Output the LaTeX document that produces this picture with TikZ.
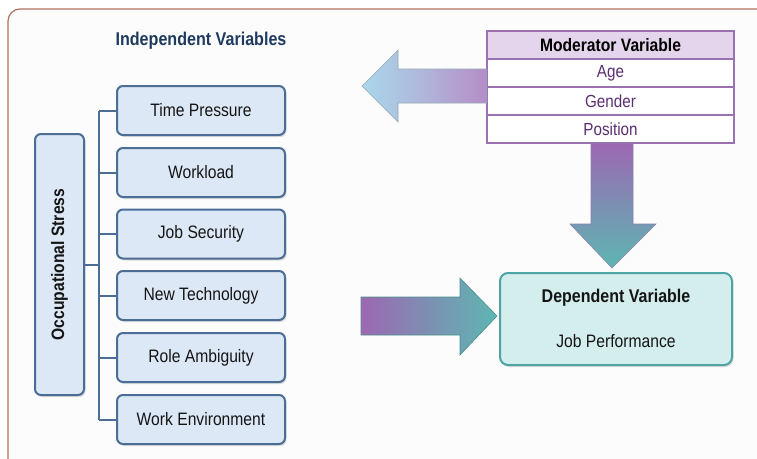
\documentclass[tikz,border=0pt]{standalone}
\usepackage{fontspec}
\setmainfont{Liberation Sans}[FakeStretch=0.87]
\usetikzlibrary{shadows,calc}
\definecolor{framec}{HTML}{B3705C}
\definecolor{bgc}{HTML}{FCFCFC}
\definecolor{ivfill}{HTML}{DCE8F5}
\definecolor{ivdraw}{HTML}{4C6E96}
\definecolor{titlec}{HTML}{1F3A5F}
\definecolor{txt}{HTML}{151515}
\definecolor{modfill}{HTML}{E5D5EC}
\definecolor{moddraw}{HTML}{9A72B2}
\definecolor{modtxt}{HTML}{5C2F72}
\definecolor{dvfill}{HTML}{D4EEEE}
\definecolor{dvdraw}{HTML}{4FA3A3}
\definecolor{lblue}{HTML}{AAD7EA}
\definecolor{lpurp}{HTML}{B68CC7}
\definecolor{dpurp}{HTML}{9C68B2}
\definecolor{teal}{HTML}{5DB7B2}
\begin{document}
\begin{tikzpicture}[x=1pt,y=-1pt,
  shad/.style={drop shadow={shadow xshift=1.5pt,shadow yshift=-2pt,opacity=0.18,fill=black!70}},
  ivbox/.style={draw=ivdraw,fill=ivfill,line width=2pt,rounded corners=6pt,minimum width=168pt,minimum height=49pt,
    text=txt,font=\fontsize{18}{21}\selectfont,shad,inner sep=0pt},
  osbox/.style={draw=ivdraw,fill=ivfill,line width=2pt,rounded corners=6pt,minimum width=261pt,minimum height=49pt,
    text=txt,font=\fontsize{18}{21}\selectfont\bfseries,shad,inner sep=0pt,rotate=90},
  conn/.style={draw=ivdraw,line width=2pt},
  modrow/.style={draw=moddraw,fill=white,line width=1.5pt,minimum width=247pt,minimum height=28pt,inner sep=0pt,
    text=modtxt,font=\fontsize{17.5}{20}\selectfont},
  modhead/.style={modrow,fill=modfill,text=black,font=\fontsize{18}{21}\selectfont\bfseries},
  dvbox/.style={draw=dvdraw,fill=dvfill,line width=2pt,rounded corners=8pt,minimum width=232pt,minimum height=92pt,shad},
  plain/.style={inner sep=0pt,text=txt}
]
\useasboundingbox (0,0) rectangle (757,458);
\fill[white] (0,0) rectangle (757,458);
\draw[framec,line width=1.2pt,rounded corners=12pt,fill=bgc] (8,9) rectangle (780,480);

\node[plain,text=titlec,font=\fontsize{18.5}{22}\selectfont\bfseries] (title) at (201,41) {Independent Variables};

\node[osbox] (os) at (59.5,264.5) {Occupational Stress};

\node[ivbox] (tp) at (201,110.5) {Time Pressure};
\node[ivbox] (wl) at (201,172.5) {Workload};
\node[ivbox] (js) at (201,234) {Job Security};
\node[ivbox] (nt) at (201,295.5) {New Technology};
\node[ivbox] (ra) at (201,357.5) {Role Ambiguity};
\node[ivbox] (we) at (201,419.5) {Work Environment};

\coordinate (ttop) at ($(tp.west)+(-17,0)$);
\coordinate (tbot) at ($(we.west)+(-17,0)$);
\draw[conn] (ttop) -- (tbot);
\draw[conn] (os.south) -- (os.south -| ttop);
\foreach \n in {tp,wl,js,nt,ra,we} { \draw[conn] (\n.west) -- (\n.west -| ttop); }

\node[modhead] (mh) at (610.5,45) {Moderator Variable};
\node[modrow] (age) at (610.5,73) {Age};
\node[modrow] (gen) at (610.5,101) {Gender};
\node[modrow] (pos) at (610.5,129) {Position};

% left arrow
\shade[left color=lblue,right color=lpurp,middle color=lblue!55!lpurp]
  (362,86) -- (398,50) -- (398,69) -- (487,69) -- (487,103) -- (398,103) -- (398,122) -- cycle;
\draw[draw=lblue!70!black!80,line width=0.6pt]
  (362,86) -- (398,50) -- (398,69) -- (486,69) -- (486,103) -- (398,103) -- (398,122) -- cycle;

% down arrow
\shade[top color=dpurp,bottom color=teal]
  (591,143) -- (633,143) -- (633,224) -- (656,224) -- (612,268) -- (570,224) -- (591,224) -- cycle;
\draw[draw=moddraw!80!teal,line width=0.6pt]
  (591,143) -- (633,143) -- (633,224) -- (656,224) -- (612,268) -- (570,224) -- (591,224) -- cycle;

% right arrow
\shade[left color=dpurp,right color=teal]
  (361,297) -- (460,297) -- (460,278) -- (497,316) -- (460,355) -- (460,335) -- (361,335) -- cycle;
\draw[draw=teal!80!black,line width=0.6pt]
  (361,297) -- (460,297) -- (460,278) -- (497,316) -- (460,355) -- (460,335) -- (361,335) -- cycle;

\node[dvbox] (dv) at (616,319) {};
\node[plain,font=\fontsize{18.4}{21}\selectfont\bfseries] (dvt) at (616,298) {Dependent Variable};
\node[plain,font=\fontsize{18}{20}\selectfont] (dvs) at (616,341) {Job Performance};
\end{tikzpicture}
\end{document}
